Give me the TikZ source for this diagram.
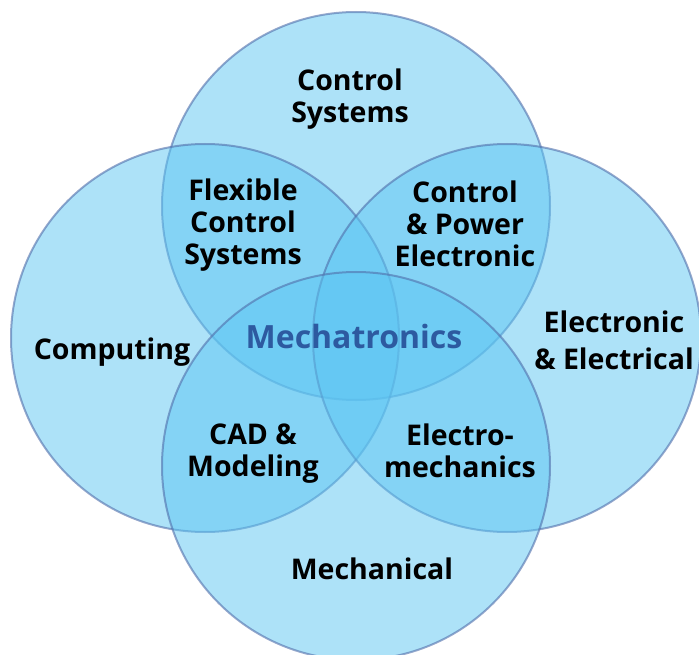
\documentclass[tikz,border=0pt]{standalone}
\usepackage{fontspec}
\setmainfont{Open Sans}
\definecolor{setfill}{RGB}{91,197,242}
\definecolor{setline}{RGB}{80,110,170}
\definecolor{coretext}{RGB}{45,90,160}
\begin{document}
\begin{tikzpicture}[x=1pt,y=-1pt,
  set/.style={circle, minimum size=388pt, inner sep=0pt, fill=setfill, fill opacity=0.5,
              draw=setline, draw opacity=0.6, line width=2pt},
  lbl/.style={align=center, font=\fontsize{28.5}{32}\selectfont\bfseries, text=black, inner sep=0pt},
  core/.style={lbl, text=coretext, font=\fontsize{32}{32}\selectfont\bfseries}]
\useasboundingbox (0,0) rectangle (699,655);
% the four discipline circles
\node[set] (ctrl) at (356,206) {};
\node[set] (comp) at (205,338) {};
\node[set] (elec) at (507,338) {};
\node[set] (mech) at (356,466) {};
% discipline names
\node[lbl] (tctrl) at (350,99) {Control\\Systems};
\node[lbl] (tcomp) at (112,352) {Computing};
\node[lbl, font=\fontsize{28.5}{37}\selectfont\bfseries] (telec) at (614,340) {Electronic\\\& Electrical};
\node[lbl] (tmech) at (372,569) {Mechanical};
% pairwise overlaps
\node[lbl] (tflex) at (243,225) {Flexible\\Control\\Systems};
\node[lbl] (tpow) at (465,224) {Control\\\& Power\\Electronic};
\node[lbl] (tcad) at (253,454) {CAD \&\\Modeling};
\node[lbl] (tem) at (460,451) {Electro-\\mechanics};
% centre
\node[core] (tcore) at (354,336) {Mechatronics};
\end{tikzpicture}
\end{document}
